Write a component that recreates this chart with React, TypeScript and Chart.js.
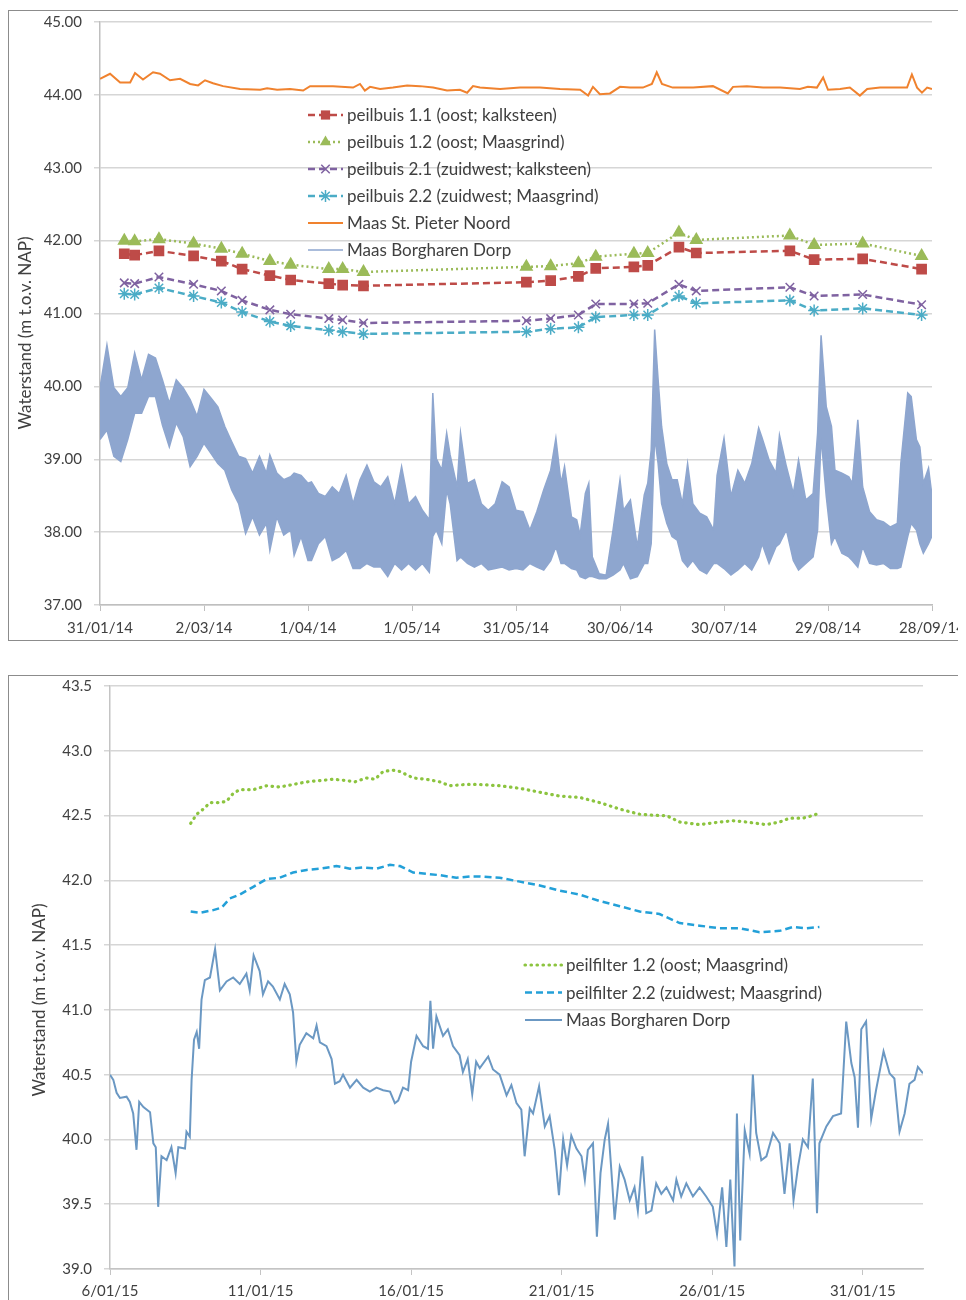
import React, { useEffect, useRef } from 'react';
import { Chart, registerables } from 'chart.js';

Chart.register(...registerables);

const FONT = 'Lato, "Open Sans", "DejaVu Sans", sans-serif';
const TEXT = '#404040';
const Y_TITLE = 'Waterstand (m t.o.v. NAP)';

// ---------------- top chart data (x = days since 31/01/14) ----------------
const topTickDays = [0, 30, 60, 90, 120, 150, 180, 210, 240];
const topTickLabels = ['31/01/14', '2/03/14', '1/04/14', '1/05/14', '31/05/14', '30/06/14', '30/07/14', '29/08/14', '28/09/14'];
const topSeriesNames = [
  'peilbuis 1.1 (oost; kalksteen)',
  'peilbuis 1.2 (oost; Maasgrind)',
  'peilbuis 2.1 (zuidwest; kalksteen)',
  'peilbuis 2.2 (zuidwest; Maasgrind)',
  'Maas St. Pieter Noord',
  'Maas Borgharen Dorp',
];

const peilDays = [7, 10, 17, 27, 35, 41, 49, 55, 66, 70, 76, 123, 130, 138, 143, 154, 158, 167, 172, 199, 206, 220, 237];
const peil11 = [41.82, 41.80, 41.86, 41.79, 41.72, 41.61, 41.52, 41.46, 41.41, 41.39, 41.38, 41.43, 41.45, 41.51, 41.62, 41.64, 41.66, 41.91, 41.83, 41.86, 41.74, 41.75, 41.61];
const peil12 = [42.00, 41.99, 42.02, 41.96, 41.89, 41.82, 41.72, 41.67, 41.61, 41.61, 41.57, 41.64, 41.65, 41.69, 41.78, 41.82, 41.83, 42.11, 42.01, 42.07, 41.94, 41.96, 41.79];
const peil21 = [41.42, 41.41, 41.50, 41.40, 41.31, 41.18, 41.05, 40.99, 40.93, 40.91, 40.87, 40.90, 40.93, 40.98, 41.13, 41.13, 41.14, 41.40, 41.31, 41.36, 41.24, 41.26, 41.12];
const peil22 = [41.27, 41.26, 41.35, 41.24, 41.15, 41.02, 40.89, 40.83, 40.77, 40.75, 40.72, 40.75, 40.79, 40.81, 40.95, 40.98, 40.98, 41.24, 41.14, 41.18, 41.04, 41.07, 40.98];

const stPieterDays = [
  0, 2.9, 5.8, 8.7, 10.1, 12.4, 15.3, 17.3, 20.2, 23.1,
  26, 28.3, 30.3, 32.6, 35.5, 40.4, 46.2, 48.2, 51.1, 54.8,
  58.6, 60.6, 67.2, 73, 75, 76.4, 77.9, 80.8, 84.5, 88.6,
  92.3, 96.1, 100.1, 103.8, 105.9, 107.6, 109.6, 115.4, 121.2, 126.9,
  132.7, 138.5, 140.8, 142.2, 144.2, 147.1, 150, 152.9, 156.6, 159.2,
  160.6, 162.1, 165.2, 171.1, 176.8, 181.1, 182.6, 186.6, 191.3, 196.2,
  201.9, 204.2, 206.8, 208.6, 210, 213.5, 216.3, 219.2, 221.3, 225,
  230.8, 232.8, 234.2, 235.7, 237.1, 238.6, 240,
];
const stPieterLevels = [
  44.22, 44.29, 44.17, 44.17, 44.30, 44.21, 44.31, 44.29, 44.20, 44.22,
  44.15, 44.13, 44.20, 44.16, 44.12, 44.08, 44.07, 44.09, 44.07, 44.08,
  44.06, 44.12, 44.12, 44.10, 44.15, 44.06, 44.11, 44.08, 44.10, 44.13,
  44.12, 44.10, 44.06, 44.07, 44.03, 44.12, 44.10, 44.08, 44.10, 44.10,
  44.08, 44.07, 43.99, 44.11, 44.01, 44.02, 44.11, 44.10, 44.10, 44.15,
  44.31, 44.15, 44.10, 44.10, 44.12, 44.02, 44.11, 44.12, 44.10, 44.10,
  44.08, 44.11, 44.10, 44.24, 44.07, 44.08, 44.10, 43.99, 44.08, 44.10,
  44.10, 44.10, 44.28, 44.10, 44.03, 44.10, 44.08,
];

// Borgharen 2014: upper and lower edge of the fluctuating band
const borgDays = [
  0, 2, 4, 6, 8, 10, 12, 14, 16, 18,
  20, 22, 24, 26, 28, 30, 32, 34, 36, 38,
  40, 42, 44, 46, 48, 49, 51, 53, 55, 56,
  58, 60, 61, 63, 65, 67, 69, 71, 73, 75,
  77, 79, 81, 83, 85, 87, 89, 91, 93, 95,
  96, 97, 98.6, 100, 101, 103, 104, 106, 108, 110,
  112, 114, 116, 118, 120, 122, 124, 126, 128, 130,
  131.5, 133, 134, 136, 137.5, 138.5, 140, 141, 142, 144,
  146, 148, 150, 151, 153, 155, 157, 158, 159, 160,
  161, 162, 163.5, 165, 166.5, 168, 169.5, 171, 173, 175,
  177, 178, 180, 182, 184, 186, 188, 190, 191, 193,
  195, 196, 198, 200, 201.5, 203.6, 205.7, 207, 208, 209.5,
  211, 212, 214, 216, 217, 218.6, 220, 222, 224, 226,
  228, 230, 231, 233, 234, 235.5, 236.5, 237.5, 239, 240,
];
const borgHigh = [
  39.98, 40.57, 39.98, 39.86, 39.98, 40.46, 40.09, 40.44, 40.39, 40.09,
  39.77, 40.09, 39.98, 39.82, 39.59, 39.96, 39.84, 39.72, 39.45, 39.24,
  39.04, 39.01, 38.81, 39.04, 38.81, 39.06, 38.81, 38.72, 38.76, 38.81,
  38.78, 38.67, 38.69, 38.53, 38.49, 38.62, 38.53, 38.78, 38.39, 38.72,
  38.92, 38.69, 38.62, 38.76, 38.39, 38.90, 38.39, 38.49, 38.30, 38.17,
  39.91, 39.01, 38.85, 39.36, 39.06, 38.62, 39.36, 38.67, 38.72, 38.39,
  38.30, 38.39, 38.69, 38.62, 38.30, 38.28, 38.03, 38.28, 38.58, 38.85,
  39.29, 38.67, 38.90, 38.21, 38.17, 37.96, 38.53, 38.67, 37.66, 37.43,
  37.41, 38.03, 38.72, 38.30, 38.44, 37.80, 38.51, 38.67, 39.13, 40.78,
  40.09, 39.45, 38.94, 38.72, 38.72, 38.39, 38.94, 38.39, 38.26, 38.21,
  38.03, 38.78, 39.29, 38.49, 38.85, 38.67, 38.94, 39.43, 39.29, 38.99,
  38.81, 39.33, 38.90, 38.53, 38.99, 38.44, 38.53, 39.36, 40.70, 39.72,
  39.45, 38.85, 38.81, 38.76, 38.67, 39.54, 38.62, 38.28, 38.17, 38.14,
  38.07, 38.12, 38.94, 39.91, 39.86, 39.27, 39.17, 38.67, 38.88, 38.50,
];
const borgLow = [
  39.27, 39.40, 39.04, 38.97, 39.27, 39.63, 39.63, 39.86, 39.86, 39.47,
  39.17, 39.50, 39.31, 38.90, 39.04, 39.22, 39.08, 38.94, 38.85, 38.58,
  38.39, 37.98, 38.21, 37.96, 38.12, 37.75, 38.21, 37.96, 38.03, 37.68,
  37.94, 37.61, 37.61, 37.84, 37.94, 37.61, 37.66, 37.75, 37.50, 37.50,
  37.57, 37.52, 37.52, 37.39, 37.57, 37.48, 37.57, 37.48, 37.57, 37.45,
  37.94, 38.03, 37.84, 38.58, 38.39, 37.61, 37.66, 37.57, 37.52, 37.57,
  37.48, 37.50, 37.52, 37.48, 37.50, 37.48, 37.57, 37.52, 37.48, 37.61,
  37.80, 37.57, 37.57, 37.50, 37.48, 37.39, 37.36, 37.39, 37.39, 37.36,
  37.36, 37.41, 37.48, 37.57, 37.36, 37.39, 37.57, 37.57, 37.84, 39.31,
  38.94, 38.39, 38.12, 37.94, 37.89, 37.61, 37.52, 37.61, 37.48, 37.43,
  37.57, 37.57, 37.50, 37.41, 37.48, 37.57, 37.48, 37.66, 37.84, 37.57,
  37.80, 37.84, 38.03, 37.61, 37.48, 37.57, 37.66, 38.03, 39.31, 38.49,
  37.84, 37.94, 37.71, 37.66, 37.61, 37.52, 37.80, 37.57, 37.55, 37.57,
  37.50, 37.50, 37.52, 37.94, 38.12, 38.03, 37.84, 37.71, 37.84, 37.95,
];

// ---------------- bottom chart data (x = days since 6/01/15) ----------------
const botTickDays = [0, 5, 10, 15, 20, 25];
const botTickLabels = ['6/01/15', '11/01/15', '16/01/15', '21/01/15', '26/01/15', '31/01/15'];
const botSeriesNames = ['peilfilter 1.2 (oost; Maasgrind)', 'peilfilter 2.2 (zuidwest; Maasgrind)', 'Maas Borgharen Dorp'];

const filter12Days = [
  2.68, 2.88, 3.10, 3.32, 3.65, 3.87, 4.09, 4.31, 4.76, 5.20,
  5.64, 6.08, 6.53, 6.97, 7.41, 7.86, 8.13, 8.52, 8.80, 9.07,
  9.40, 9.63, 10.07, 10.51, 10.95, 11.28, 11.84, 12.28, 12.94, 13.61,
  14.27, 14.94, 15.60, 16.26, 16.93, 17.59, 18.25, 18.48, 18.92, 19.58,
  20.25, 20.69, 21.13, 21.79, 22.24, 22.57, 23.01, 23.34, 23.56,
];
const filter12Levels = [
  42.44, 42.51, 42.55, 42.60, 42.60, 42.61, 42.67, 42.70, 42.70, 42.73,
  42.72, 42.74, 42.76, 42.77, 42.78, 42.77, 42.76, 42.79, 42.78, 42.84,
  42.85, 42.84, 42.79, 42.78, 42.76, 42.73, 42.74, 42.74, 42.73, 42.71,
  42.68, 42.65, 42.64, 42.60, 42.55, 42.51, 42.50, 42.50, 42.45, 42.43,
  42.45, 42.46, 42.45, 42.43, 42.45, 42.48, 42.48, 42.50, 42.52,
];
const filter22Days = [
  2.68, 2.99, 3.43, 3.71, 3.98, 4.31, 4.76, 5.20, 5.64, 6.08,
  6.53, 6.97, 7.52, 7.97, 8.41, 8.85, 9.30, 9.63, 10.07, 10.51,
  10.95, 11.50, 11.95, 12.28, 12.94, 13.61, 14.27, 14.94, 15.60, 16.26,
  16.93, 17.59, 18.25, 18.92, 19.58, 20.25, 20.91, 21.57, 22.24, 22.68,
  23.12, 23.56,
];
const filter22Levels = [
  41.76, 41.75, 41.77, 41.79, 41.86, 41.89, 41.95, 42.01, 42.02, 42.06,
  42.08, 42.09, 42.11, 42.09, 42.10, 42.09, 42.12, 42.11, 42.06, 42.05,
  42.04, 42.02, 42.03, 42.03, 42.02, 41.99, 41.96, 41.92, 41.89, 41.84,
  41.80, 41.76, 41.74, 41.67, 41.65, 41.63, 41.63, 41.60, 41.61, 41.64,
  41.63, 41.64,
];
const maas15Days = [
  0, 0.11, 0.22, 0.33, 0.55, 0.66, 0.77, 0.88, 0.97, 1.11,
  1.33, 1.44, 1.52, 1.60, 1.71, 1.88, 2.04, 2.18, 2.27, 2.49,
  2.54, 2.65, 2.71, 2.79, 2.88, 2.96, 3.04, 3.15, 3.32, 3.49,
  3.65, 3.87, 4.09, 4.31, 4.53, 4.64, 4.77, 4.97, 5.08, 5.25,
  5.41, 5.64, 5.80, 5.97, 6.08, 6.19, 6.30, 6.52, 6.75, 6.86,
  6.97, 7.19, 7.36, 7.47, 7.63, 7.74, 7.97, 8.19, 8.41, 8.63,
  8.85, 9.07, 9.30, 9.46, 9.57, 9.73, 9.90, 10.0, 10.18, 10.40,
  10.56, 10.64, 10.73, 10.84, 11.06, 11.22, 11.39, 11.61, 11.72, 11.88,
  12.03, 12.16, 12.28, 12.56, 12.72, 12.94, 13.17, 13.33, 13.50, 13.66,
  13.77, 13.94, 14.05, 14.25, 14.44, 14.60, 14.77, 14.91, 15.05, 15.18,
  15.32, 15.49, 15.66, 15.77, 15.87, 16.04, 16.17, 16.29, 16.43, 16.54,
  16.65, 16.76, 16.93, 17.09, 17.26, 17.42, 17.53, 17.68, 17.81, 17.98,
  18.14, 18.31, 18.48, 18.70, 18.81, 18.97, 19.14, 19.36, 19.58, 19.80,
  20.02, 20.16, 20.33, 20.47, 20.60, 20.74, 20.82, 20.93, 21.08, 21.24,
  21.35, 21.46, 21.63, 21.80, 22.02, 22.24, 22.40, 22.57, 22.70, 22.85,
  23.01, 23.18, 23.34, 23.48, 23.56, 23.79, 24.01, 24.28, 24.45, 24.62,
  24.73, 24.84, 24.95, 25.11, 25.28, 25.44, 25.69, 25.89, 26.05, 26.22,
  26.39, 26.55, 26.72, 26.83, 27.0,
];
const maas15Levels = [
  40.50, 40.46, 40.36, 40.32, 40.33, 40.29, 40.20, 39.92, 40.29, 40.25,
  40.21, 39.97, 39.94, 39.48, 39.87, 39.84, 39.94, 39.74, 39.94, 39.93,
  40.06, 40.02, 40.46, 40.77, 40.83, 40.70, 41.08, 41.23, 41.25, 41.47,
  41.15, 41.22, 41.25, 41.20, 41.28, 41.15, 41.42, 41.30, 41.12, 41.22,
  41.18, 41.08, 41.20, 41.12, 40.98, 40.60, 40.73, 40.82, 40.78, 40.88,
  40.75, 40.72, 40.62, 40.43, 40.45, 40.50, 40.40, 40.46, 40.40, 40.37,
  40.40, 40.38, 40.37, 40.28, 40.30, 40.40, 40.38, 40.60, 40.80, 40.72,
  40.70, 41.07, 40.70, 40.95, 40.80, 40.85, 40.72, 40.65, 40.52, 40.62,
  40.35, 40.60, 40.55, 40.64, 40.54, 40.50, 40.34, 40.42, 40.28, 40.23,
  39.87, 40.24, 40.20, 40.41, 40.10, 40.18, 39.92, 39.57, 40.00, 39.80,
  40.03, 39.93, 39.87, 39.69, 39.92, 39.97, 39.25, 39.74, 40.00, 40.12,
  39.76, 39.38, 39.79, 39.69, 39.53, 39.63, 39.45, 39.87, 39.43, 39.45,
  39.66, 39.58, 39.63, 39.53, 39.69, 39.56, 39.66, 39.56, 39.63, 39.56,
  39.48, 39.27, 39.63, 39.17, 39.69, 39.02, 40.20, 39.22, 40.07, 39.89,
  40.50, 40.05, 39.84, 39.87, 40.05, 39.97, 39.58, 39.97, 39.53, 39.79,
  40.00, 39.94, 40.47, 39.43, 39.97, 40.10, 40.18, 40.20, 40.91, 40.59,
  40.48, 40.09, 40.85, 40.91, 40.16, 40.38, 40.68, 40.51, 40.47, 40.06,
  40.20, 40.43, 40.46, 40.56, 40.51,
];

// ---------------- styling ----------------
const RED = '#BE4B48';
const GREEN = '#9BBB59';
const PURPLE = '#7F62A1';
const TEAL = '#4BACC6';
const ORANGE = '#F0822E';
const BAND = '#8EA6CF';
const LIME = '#8CC43F';
const SKY = '#23A0D8';
const STEEL = '#6B98C3';

const CANVAS_W = 975;

const pts = (xs: number[], ys: number[]) => xs.map((x, i) => ({ x, y: ys[i] }));

type LegendEntry = {
  label: string;
  color: string;
  dash: number[];
  width: number;
  cap?: CanvasLineCap;
  point?: string;
  radius?: number;
};

function drawMarker(ctx: CanvasRenderingContext2D, style: string, x: number, y: number, r: number, color: string) {
  ctx.save();
  ctx.setLineDash([]);
  ctx.fillStyle = color;
  ctx.strokeStyle = color;
  ctx.lineWidth = 1.5;
  if (style === 'rect') {
    const s = r * Math.SQRT1_2;
    ctx.fillRect(x - s, y - s, 2 * s, 2 * s);
  } else if (style === 'triangle') {
    ctx.beginPath();
    ctx.moveTo(x, y - r);
    ctx.lineTo(x + r * 0.866, y + r * 0.5);
    ctx.lineTo(x - r * 0.866, y + r * 0.5);
    ctx.closePath();
    ctx.fill();
  } else {
    const o = r * Math.SQRT1_2;
    ctx.beginPath();
    ctx.moveTo(x - o, y - o);
    ctx.lineTo(x + o, y + o);
    ctx.moveTo(x + o, y - o);
    ctx.lineTo(x - o, y + o);
    if (style === 'star') {
      ctx.moveTo(x, y - r);
      ctx.lineTo(x, y + r);
      ctx.moveTo(x - r, y);
      ctx.lineTo(x + r, y);
    }
    ctx.stroke();
  }
  ctx.restore();
}

function legendPlugin(id: string, entries: LegendEntry[], x0: number, y0: number, rowH: number, sampleW: number, fontSize: number) {
  return {
    id,
    afterDraw(chart: any) {
      const ctx: CanvasRenderingContext2D = chart.ctx;
      ctx.save();
      entries.forEach((e, i) => {
        const y = y0 + i * rowH;
        ctx.strokeStyle = e.color;
        ctx.lineWidth = e.width;
        ctx.lineCap = e.cap || 'butt';
        ctx.setLineDash(e.dash);
        ctx.beginPath();
        ctx.moveTo(x0, y);
        ctx.lineTo(x0 + sampleW, y);
        ctx.stroke();
        if (e.point) drawMarker(ctx, e.point, x0 + sampleW / 2, y, e.radius || 5, e.color);
        ctx.setLineDash([]);
        ctx.fillStyle = TEXT;
        ctx.font = `${fontSize}px ${FONT}`;
        ctx.textAlign = 'left';
        ctx.textBaseline = 'middle';
        ctx.fillText(e.label, x0 + sampleW + 4, y + 1);
      });
      ctx.restore();
    },
  };
}

function yTitlePlugin(id: string, text: string, cx: number, cy: number, fontSize: number) {
  return {
    id,
    afterDraw(chart: any) {
      const ctx: CanvasRenderingContext2D = chart.ctx;
      ctx.save();
      ctx.translate(cx, cy);
      ctx.rotate(-Math.PI / 2);
      ctx.fillStyle = TEXT;
      ctx.font = `${fontSize}px ${FONT}`;
      ctx.textAlign = 'center';
      ctx.textBaseline = 'middle';
      ctx.fillText(text, 0, 0);
      ctx.restore();
    },
  };
}

function tickLabel(days: number[], labels: string[]) {
  return (v: number) => {
    const i = days.indexOf(v);
    return i >= 0 ? labels[i] : '';
  };
}

function xScale(min: number, max: number, tickDays: number[], labels: string[], height: number, pad: number, color: string) {
  return {
    type: 'linear',
    min,
    max,
    afterBuildTicks: (s: any) => {
      s.ticks = tickDays.map((v) => ({ value: v }));
    },
    afterFit: (s: any) => {
      s.height = height;
      s.paddingLeft = 0;
      s.paddingRight = 0;
    },
    ticks: {
      callback: tickLabel(tickDays, labels),
      autoSkip: false,
      maxRotation: 0,
      color: TEXT,
      font: { family: FONT, size: 15 },
      padding: pad,
    },
    grid: { drawOnChartArea: false, drawTicks: true, tickLength: 6, color },
    border: { color, width: 1.5 },
  };
}

function yScale(min: number, max: number, step: number, digits: number, width: number, color: string) {
  return {
    min,
    max,
    afterFit: (s: any) => {
      s.width = width;
      s.paddingTop = 0;
      s.paddingBottom = 0;
    },
    ticks: {
      stepSize: step,
      callback: (v: number) => Number(v).toFixed(digits),
      color: TEXT,
      font: { family: FONT, size: 15 },
      padding: 12,
    },
    grid: { color: '#d6d6d6', lineWidth: 1.5, tickLength: 6 },
    border: { color, width: 1.5 },
  };
}

function topConfig(): any {
  const markerDs = (label: string, data: number[], color: string, dash: number[], style: string, radius: number) => ({
    label,
    data: pts(peilDays, data),
    borderColor: color,
    backgroundColor: color,
    borderWidth: 2.5,
    borderDash: dash,
    pointStyle: style,
    pointRadius: radius,
    pointBorderWidth: 1.5,
    pointBackgroundColor: color,
    pointBorderColor: color,
    tension: 0,
    fill: false,
  });
  return {
    type: 'line',
    data: {
      datasets: [
        markerDs(topSeriesNames[0], peil11, RED, [7, 4], 'rect', 6.5),
        markerDs(topSeriesNames[1], peil12, GREEN, [2, 3], 'triangle', 6.5),
        markerDs(topSeriesNames[2], peil21, PURPLE, [7, 4], 'crossRot', 6),
        markerDs(topSeriesNames[3], peil22, TEAL, [7, 4], 'star', 6),
        {
          label: topSeriesNames[4],
          data: pts(stPieterDays, stPieterLevels),
          borderColor: ORANGE,
          borderWidth: 2,
          pointRadius: 0,
          tension: 0,
          fill: false,
        },
        {
          label: topSeriesNames[5],
          data: pts(borgDays, borgHigh),
          borderColor: BAND,
          backgroundColor: BAND,
          borderWidth: 1.5,
          pointRadius: 0,
          tension: 0,
          fill: '+1',
        },
        {
          label: topSeriesNames[5] + ' (min)',
          data: pts(borgDays, borgLow),
          borderColor: BAND,
          backgroundColor: BAND,
          borderWidth: 1.5,
          pointRadius: 0,
          tension: 0,
          fill: false,
        },
      ],
    },
    options: {
      animation: false,
      responsive: true,
      maintainAspectRatio: false,
      layout: { padding: { top: 11, right: CANVAS_W - 923, left: 0, bottom: 0 } },
      plugins: { legend: { display: false }, tooltip: { enabled: false } },
      scales: {
        x: xScale(0, 240, topTickDays, topTickLabels, 35, 8, '#bfbfbf'),
        y: yScale(37, 45, 1, 2, 91, '#bfbfbf'),
      },
    },
    plugins: [
      yTitlePlugin('topTitle', Y_TITLE, 17, 322, 17),
      legendPlugin(
        'topLegend',
        [
          { label: topSeriesNames[0], color: RED, dash: [7, 4], width: 2.5, point: 'rect', radius: 6.5 },
          { label: topSeriesNames[1], color: GREEN, dash: [2, 3], width: 2.5, point: 'triangle', radius: 6.5 },
          { label: topSeriesNames[2], color: PURPLE, dash: [7, 4], width: 2.5, point: 'crossRot', radius: 6 },
          { label: topSeriesNames[3], color: TEAL, dash: [7, 4], width: 2.5, point: 'star', radius: 6 },
          { label: topSeriesNames[4], color: ORANGE, dash: [], width: 2 },
          { label: topSeriesNames[5], color: BAND, dash: [], width: 1.5 },
        ],
        299,
        104,
        27,
        35,
        17
      ),
    ],
  };
}

function bottomConfig(): any {
  return {
    type: 'line',
    data: {
      datasets: [
        {
          label: botSeriesNames[0],
          data: pts(filter12Days, filter12Levels),
          borderColor: LIME,
          borderWidth: 3.2,
          borderDash: [0.5, 5.5],
          borderCapStyle: 'round',
          pointRadius: 0,
          tension: 0,
          fill: false,
        },
        {
          label: botSeriesNames[1],
          data: pts(filter22Days, filter22Levels),
          borderColor: SKY,
          borderWidth: 2.5,
          borderDash: [7, 4],
          pointRadius: 0,
          tension: 0,
          fill: false,
        },
        {
          label: botSeriesNames[2],
          data: pts(maas15Days, maas15Levels),
          borderColor: STEEL,
          borderWidth: 2,
          pointRadius: 0,
          tension: 0,
          fill: false,
        },
      ],
    },
    options: {
      animation: false,
      responsive: true,
      maintainAspectRatio: false,
      layout: { padding: { top: 10, right: CANVAS_W - 914, left: 0, bottom: 0 } },
      plugins: { legend: { display: false }, tooltip: { enabled: false } },
      scales: {
        x: xScale(0, 27, botTickDays, botTickLabels, 31, 7, '#c4c4c4'),
        y: yScale(39, 43.5, 0.5, 1, 101, '#c4c4c4'),
      },
    },
    plugins: [
      yTitlePlugin('bottomTitle', Y_TITLE, 31, 324, 17),
      legendPlugin(
        'bottomLegend',
        [
          { label: botSeriesNames[0], color: LIME, dash: [0.5, 5.5], width: 3.2, cap: 'round' },
          { label: botSeriesNames[1], color: SKY, dash: [7, 4], width: 2.5 },
          { label: botSeriesNames[2], color: STEEL, dash: [], width: 2 },
        ],
        516,
        289,
        27.5,
        37,
        17
      ),
    ],
  };
}

function ChartCanvas({ build, width, height }: { build: () => any; width: number; height: number }) {
  const ref = useRef<HTMLCanvasElement | null>(null);
  useEffect(() => {
    if (!ref.current) return;
    const chart = new Chart(ref.current, build());
    return () => chart.destroy();
  }, []);
  return (
    <div style={{ position: 'relative', width, height }}>
      <canvas ref={ref} />
    </div>
  );
}

export default function App() {
  useEffect(() => {
    document.documentElement.style.overflow = 'hidden';
    document.body.style.overflow = 'hidden';
  }, []);
  const boxBase: React.CSSProperties = {
    position: 'absolute',
    left: 0,
    width: 958,
    boxSizing: 'border-box',
    borderLeft: '1px solid #8c8c8c',
    borderTop: '1px solid #8c8c8c',
    background: '#fff',
  };
  return (
    <div style={{ position: 'relative', width: 958, height: 1292 }}>
      <div style={{ ...boxBase, top: 2, height: 631, borderBottom: '1px solid #8c8c8c' }}>
        <ChartCanvas build={topConfig} width={CANVAS_W} height={629} />
      </div>
      <div style={{ ...boxBase, top: 667, height: 625 }}>
        <ChartCanvas build={bottomConfig} width={CANVAS_W} height={624} />
      </div>
    </div>
  );
}
